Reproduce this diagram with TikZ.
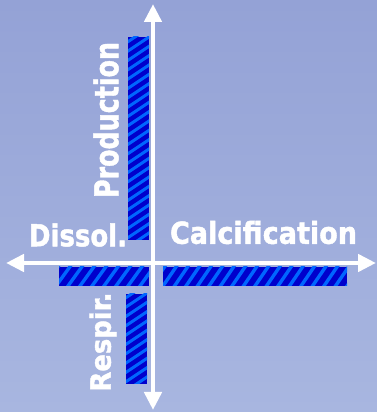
\documentclass[tikz,border=0pt]{standalone}
\usepackage{fontspec}
\setmainfont{DejaVu Sans}
\newfontfamily\lblfont{DejaVu Sans Bold}[FakeBold=1.5]
\usetikzlibrary{arrows.meta}
\definecolor{bgtop}{HTML}{94A2D6}
\definecolor{bgbot}{HTML}{A8B6E0}
\definecolor{barDark}{HTML}{0000CC}
\definecolor{barLight}{HTML}{0066FF}
% #1 node, #2 dx, #3 dy, #4 horizontal period, #5 line width
\newcommand{\hatchit}[5]{%
  \begin{scope}
    \clip (#1.south west) rectangle (#1.north east);
    \foreach \s in {-40,...,40}
      \draw[barLight, line width=#5pt]
        ([xshift=\s*#4 pt]#1.south) ++(-30*#2,-30*#3) -- ++(60*#2,60*#3);
  \end{scope}}
\begin{document}
\begin{tikzpicture}[x=1pt,y=1pt,
  hatchbar/.style={draw=none, fill=barDark, inner sep=0pt, outer sep=0pt, anchor=south west},
  axis/.style={white, line width=4.5pt, {Triangle[width=17pt,length=18pt]}-{Triangle[width=17pt,length=18pt]}},
  lbl/.style={text=white, inner sep=0pt, font=\lblfont}
]
\useasboundingbox (0,0) rectangle (377,412);
\shade[top color=bgtop, bottom color=bgbot] (0,0) rectangle (377,412);
% bars
\node[hatchbar, minimum width=21pt, minimum height=203pt] (prod) at (128,172) {};
\node[hatchbar, minimum width=90pt, minimum height=19pt] (diss) at (59,126) {};
\node[hatchbar, minimum width=184pt, minimum height=19pt] (calc) at (163,126) {};
\node[hatchbar, minimum width=21pt, minimum height=90pt] (resp) at (126,28) {};
\hatchit{prod}{21}{14}{14}{3.0}
\hatchit{diss}{13}{18}{12}{3.4}
\hatchit{calc}{13}{19}{11.5}{3.4}
\hatchit{resp}{21}{14}{14}{3.0}
% axes
\coordinate (vtop) at (153,408);
\coordinate (vbot) at (153,2);
\coordinate (hleft) at (6,149);
\coordinate (hright) at (376,149);
\draw[axis] (vbot) -- (vtop);
\draw[axis] (hleft) -- (hright);
% labels
\node[lbl, rotate=90] (tprod) at (106,292) {\resizebox{156pt}{25pt}{Production}};
\node[lbl] (tdiss) at (78,177) {\resizebox{98pt}{23pt}{Dissol.}};
\node[lbl] (tcalc) at (263.5,179.5) {\resizebox{187pt}{23pt}{Calcification}};
\node[lbl, rotate=90] (tresp) at (103,70) {\resizebox*{99pt}{27pt}{Respir.}};
\end{tikzpicture}
\end{document}
